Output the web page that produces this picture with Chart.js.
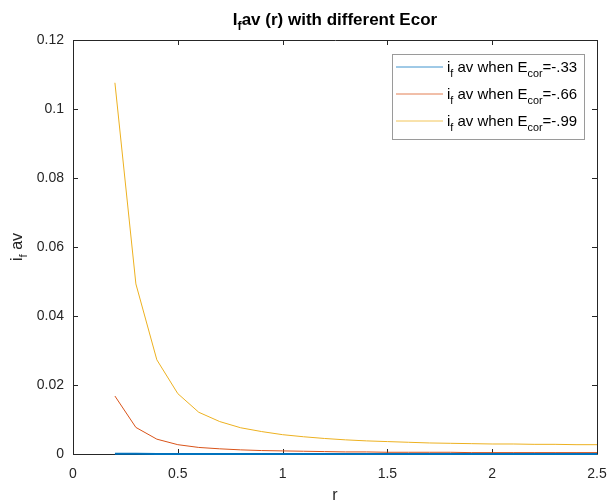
<!DOCTYPE html>
<html>
<head>
<meta charset="utf-8">
<script src="https://cdn.jsdelivr.net/npm/chart.js@4.4.0/dist/chart.umd.min.js"></script>
<style>
  html, body { margin: 0; padding: 0; background: #fff; }
  canvas { display: block; }
</style>
</head>
<body>
<canvas id="ifavChart" width="611" height="501"></canvas>
<script>
// r values (x axis)
const rValues = [0.2, 0.3, 0.4, 0.5, 0.6, 0.7, 0.8, 0.9, 1.0, 1.1, 1.2, 1.3,
                 1.4, 1.5, 1.6, 1.7, 1.8, 1.9, 2.0, 2.1, 2.2, 2.3, 2.4, 2.5];
// if av when Ecor = -.33
const ifav033 = [0.00008, 0.00004, 0.00002, 0.00001, 0.00001, 0.00001, 0.00001, 0.00001,
                 0.00001, 0.00001, 0.00001, 0.00001, 0.00001, 0.00001, 0.00001, 0.00001,
                 0.00001, 0.00001, 0.00001, 0.00001, 0.00001, 0.00001, 0.00001, 0.00001];
// if av when Ecor = -.66
const ifav066 = [0.0168, 0.0077, 0.0043, 0.0027, 0.0019, 0.0015, 0.0012, 0.0010,
                 0.0009, 0.0008, 0.0007, 0.0006, 0.0006, 0.0005, 0.0005, 0.0005,
                 0.0005, 0.0004, 0.0004, 0.0004, 0.0004, 0.0004, 0.0004, 0.0004];
// if av when Ecor = -.99
const ifav099 = [0.1076, 0.0493, 0.0273, 0.0175, 0.0121, 0.0094, 0.0076, 0.0065,
                 0.0056, 0.0050, 0.0045, 0.0041, 0.0038, 0.0036, 0.0034, 0.0032,
                 0.0031, 0.0030, 0.0029, 0.0029, 0.0028, 0.0028, 0.0027, 0.0027];

const xTicks = [0, 0.5, 1, 1.5, 2, 2.5];
const yTicks = [0, 0.02, 0.04, 0.06, 0.08, 0.1, 0.12];
const ecorLabels = ['-.33', '-.66', '-.99'];
const seriesColors = ['#0072BD', '#D95319', '#EDB120'];

const FONT = '"Liberation Sans", Arial, Helvetica, sans-serif';
const INK = '#262626';

const toPoints = vals => rValues.map((r, i) => ({ x: r, y: vals[i] }));
const fmt = v => String(+Number(v).toFixed(3));

// draws text pieces where some are subscripts
function drawRich(ctx, parts, x, y, size, bold, align) {
  const font = (s) => (bold ? 'bold ' : '') + s + 'px ' + FONT;
  let total = 0;
  parts.forEach(p => {
    ctx.font = font(p.sub ? size * 0.72 : size);
    total += ctx.measureText(p.t).width;
  });
  let cx = x;
  if (align === 'center') cx = x - total / 2;
  ctx.textBaseline = 'alphabetic';
  ctx.textAlign = 'left';
  parts.forEach(p => {
    ctx.font = font(p.sub ? size * 0.72 : size);
    ctx.fillText(p.t, cx, p.sub ? y + size * 0.3 : y);
    cx += ctx.measureText(p.t).width;
  });
}

const matlabFrame = {
  id: 'matlabFrame',
  beforeDatasetsDraw(chart) {
    const ctx = chart.ctx;
    const a = chart.chartArea;
    const xs = chart.scales.x, ys = chart.scales.y;
    ctx.save();
    ctx.strokeStyle = INK;
    ctx.lineWidth = 1;
    ctx.beginPath();
    ctx.rect(Math.round(a.left) + 0.5, Math.round(a.top) + 0.5,
             Math.round(a.right - a.left), Math.round(a.bottom - a.top));
    ctx.stroke();
    // inward ticks on all sides
    ctx.beginPath();
    xTicks.forEach(v => {
      const px = Math.round(xs.getPixelForValue(v)) + 0.5;
      ctx.moveTo(px, a.bottom); ctx.lineTo(px, a.bottom - 5);
      ctx.moveTo(px, a.top); ctx.lineTo(px, a.top + 5);
    });
    yTicks.forEach(v => {
      const py = Math.round(ys.getPixelForValue(v)) + 0.5;
      ctx.moveTo(a.left, py); ctx.lineTo(a.left + 5, py);
      ctx.moveTo(a.right, py); ctx.lineTo(a.right - 5, py);
    });
    ctx.stroke();
    ctx.restore();
  },
  afterDraw(chart) {
    const ctx = chart.ctx;
    const a = chart.chartArea;
    ctx.save();
    // title
    ctx.fillStyle = '#000';
    drawRich(ctx, [{ t: 'I' }, { t: 'f', sub: true }, { t: 'av (r) with different Ecor' }],
             (a.left + a.right) / 2, 25, 17, true, 'center');

    // axis titles
    ctx.fillStyle = INK;
    drawRich(ctx, [{ t: 'r' }], (a.left + a.right) / 2, 500, 16, false, 'center');
    ctx.save();
    ctx.translate(22, (a.top + a.bottom) / 2);
    ctx.rotate(-Math.PI / 2);
    drawRich(ctx, [{ t: 'i' }, { t: 'f', sub: true }, { t: ' av' }], 0, 0, 16, false, 'center');
    ctx.restore();

    // legend
    const bx = 392, by = 54, bw = 192, bh = 85;
    ctx.fillStyle = '#fff';
    ctx.fillRect(bx, by, bw, bh);
    ctx.strokeStyle = '#9a9a9a';
    ctx.lineWidth = 1;
    ctx.strokeRect(bx + 0.5, by + 0.5, bw, bh);
    ecorLabels.forEach((lab, i) => {
      const ry = 67 + i * 27;
      ctx.strokeStyle = seriesColors[i];
      ctx.globalAlpha = 0.75;
      ctx.beginPath();
      ctx.moveTo(396, ry); ctx.lineTo(443, ry);
      ctx.stroke();
      ctx.globalAlpha = 1;
      ctx.fillStyle = '#000';
      drawRich(ctx, [{ t: 'i' }, { t: 'f', sub: true }, { t: ' av when E' },
                     { t: 'cor', sub: true }, { t: '=' + lab }],
               447, ry + 5, 15, false, 'left');
    });
    ctx.restore();
  }
};

new Chart(document.getElementById('ifavChart'), {
  type: 'line',
  data: {
    datasets: [ifav033, ifav066, ifav099].map((vals, i) => ({
      label: 'if av when Ecor=' + ecorLabels[i],
      data: toPoints(vals),
      borderColor: seriesColors[i],
      borderWidth: i === 0 ? 2 : 1,
      pointRadius: 0,
      tension: 0,
      fill: false,
      clip: false
    }))
  },
  options: {
    responsive: false,
    animation: false,
    layout: { padding: { top: 40, right: 14, left: 0, bottom: 0 } },
    plugins: {
      legend: { display: false },
      title: { display: false },
      tooltip: { enabled: false }
    },
    scales: {
      x: {
        type: 'linear',
        min: 0,
        max: 2.5,
        afterFit: s => { s.height = 47; s.paddingLeft = 0; s.paddingRight = 0; },
        afterBuildTicks: s => { s.ticks = xTicks.map(v => ({ value: v })); },
        grid: { display: false, drawTicks: false },
        border: { display: false },
        ticks: { color: INK, padding: 12, font: { family: FONT, size: 14 }, callback: fmt }
      },
      y: {
        type: 'linear',
        min: 0,
        max: 0.12,
        afterFit: s => { s.width = 73; s.paddingTop = 0; s.paddingBottom = 0; },
        afterBuildTicks: s => { s.ticks = yTicks.map(v => ({ value: v })); },
        grid: { display: false, drawTicks: false },
        border: { display: false },
        ticks: { color: INK, padding: 9, font: { family: FONT, size: 14 }, callback: fmt }
      }
    }
  },
  plugins: [matlabFrame]
});
</script>
</body>
</html>
